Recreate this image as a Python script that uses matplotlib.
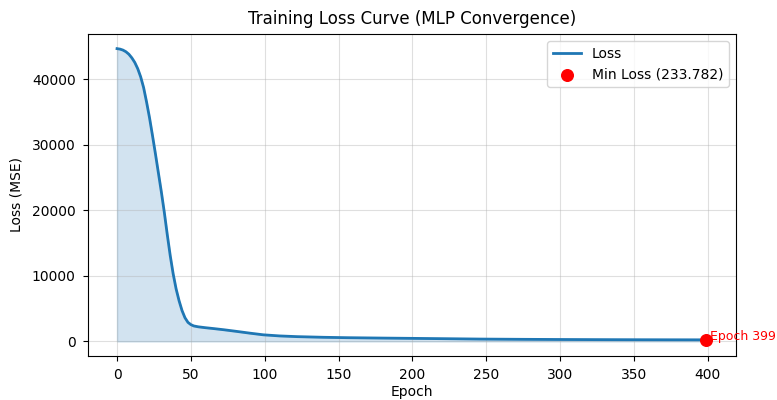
import matplotlib
matplotlib.use("Agg")
import matplotlib.pyplot as plt

epochs = [0, 2, 4, 6, 8, 10, 12, 14, 16, 18, 20, 22, 24, 26, 28, 30, 32, 34,
          36, 38, 40, 42, 44, 46, 48, 50, 52, 55, 60, 65, 72, 80, 90, 99, 110,
          122, 140, 156, 180, 201, 225, 246, 275, 300, 325, 350, 375, 399]
loss = [44650, 44580, 44430, 44180, 43800, 43250, 42550, 41600, 40350, 38700,
        36500, 34100, 31400, 28600, 25700, 22800, 19700, 16300, 13100, 10300,
        8000, 6200, 4700, 3600, 2900, 2550, 2350, 2220, 2080, 1960, 1780,
        1550, 1250, 1000, 830, 720, 620, 560, 500, 455, 400, 350, 310, 285,
        265, 250, 240, 233.782]
min_epoch = 399
min_loss = 233.782

fig = plt.figure(figsize=(7.77, 4.0), dpi=100)
ax = fig.add_axes([0.1127, 0.11, 0.8343, 0.805])
ax.plot(epochs, loss, color="#1f77b4", linewidth=2, label="Loss")
ax.fill_between(epochs, loss, color="#1f77b4", alpha=0.2)
ax.scatter([min_epoch], [min_loss], color="red", s=70, zorder=5,
           label=f"Min Loss ({min_loss:.3f})")
ax.text(min_epoch + 2.5, min_loss, f"Epoch {min_epoch}", color="red",
        fontsize=9, va="baseline", ha="left")
ax.set_title("Training Loss Curve (MLP Convergence)", pad=7)
ax.set_xlabel("Epoch", labelpad=2.5)
ax.set_ylabel("Loss (MSE)", labelpad=6)
ax.tick_params(axis="both", pad=5)
ax.grid(True, alpha=0.4)
ax.legend(loc="upper right")
fig.savefig("out.png", dpi=100)
